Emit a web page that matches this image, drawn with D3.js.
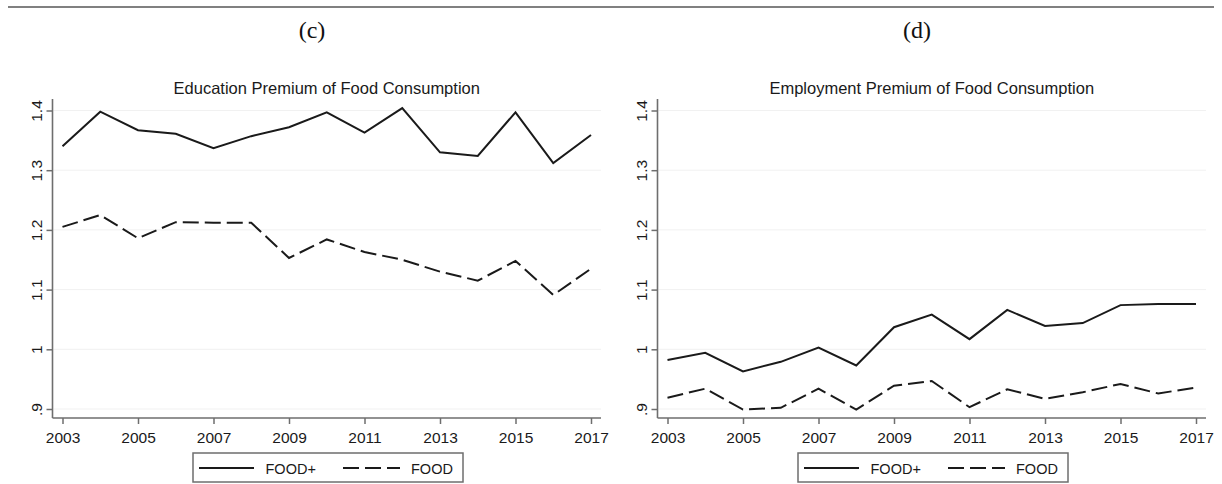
<!DOCTYPE html>
<html>
<head>
<meta charset="utf-8">
<script src="https://cdn.jsdelivr.net/npm/d3@7"></script>
<style>
  body { margin: 0; background: #fff; }
  svg { display: block; }
</style>
</head>
<body>
<svg id="fig" width="1222" height="484"></svg>
<script>
// Survey years on the horizontal axis
const years = [2003, 2004, 2005, 2006, 2007, 2008, 2009, 2010, 2011, 2012, 2013, 2014, 2015, 2016, 2017];
const xTickYears = [2003, 2005, 2007, 2009, 2011, 2013, 2015, 2017];

// Premium series (ratio of means)
const eduFoodPlus = [1.340, 1.398, 1.367, 1.361, 1.337, 1.357, 1.372, 1.397, 1.363, 1.404, 1.330, 1.324, 1.397, 1.312, 1.359];
const eduFood     = [1.205, 1.225, 1.186, 1.213, 1.212, 1.212, 1.153, 1.184, 1.163, 1.150, 1.130, 1.115, 1.148, 1.091, 1.135];
const empFoodPlus = [0.982, 0.994, 0.963, 0.979, 1.003, 0.973, 1.037, 1.058, 1.017, 1.066, 1.039, 1.044, 1.074, 1.076, 1.076];
const empFood     = [0.919, 0.934, 0.899, 0.902, 0.934, 0.899, 0.939, 0.947, 0.903, 0.933, 0.917, 0.928, 0.942, 0.926, 0.936];

const yTickValues = [0.9, 1.0, 1.1, 1.2, 1.3, 1.4];
const yTickLabels = [".9", "1", "1.1", "1.2", "1.3", "1.4"];

const panelLetters = ["(c)", "(d)"];
const panelTitles = ["Education Premium of Food Consumption", "Employment Premium of Food Consumption"];
const seriesNames = ["FOOD+", "FOOD"];

const panels = [
  { letter: panelLetters[0], title: panelTitles[0], series: [eduFoodPlus, eduFood] },
  { letter: panelLetters[1], title: panelTitles[1], series: [empFoodPlus, empFood] }
];

const svg = d3.select("#fig");
const sans = "'Liberation Sans', Arial, sans-serif";
const serif = "'Liberation Serif', 'Times New Roman', serif";
const axisGray = "#6e6e6e";
const ink = "#1a1a1a";
const dashPattern = "16,6";

// Rule across the top of the figure
svg.append("line")
  .attr("x1", 8).attr("x2", 1214)
  .attr("y1", 7).attr("y2", 7)
  .attr("stroke", "#808080").attr("stroke-width", 2);

const panelWidth = 605;
const axisX = 52.5, axisRight = 601;
const axisY = 418, axisTop = 99;

const x = d3.scaleLinear().domain([2003, 2017]).range([62.5, 591]);
const y = d3.scaleLinear().domain([0.9, 1.4]).range([409, 110.5]);

panels.forEach((p, i) => {
  const g = svg.append("g").attr("transform", `translate(${i * panelWidth},0)`);

  // Panel letter
  g.append("text")
    .attr("x", 312).attr("y", 38)
    .attr("text-anchor", "middle")
    .attr("font-family", serif).attr("font-size", 24)
    .attr("fill", "#111")
    .text(p.letter);

  // Chart title
  g.append("text")
    .attr("x", (axisX + axisRight) / 2).attr("y", 94)
    .attr("text-anchor", "middle")
    .attr("font-family", sans).attr("font-size", 16.5)
    .attr("fill", ink)
    .text(p.title);

  // Horizontal gridlines
  g.append("g").selectAll("line")
    .data(yTickValues)
    .join("line")
    .attr("x1", axisX + 1).attr("x2", axisRight)
    .attr("y1", d => y(d)).attr("y2", d => y(d))
    .attr("stroke", "#f1f1f1").attr("stroke-width", 1);

  // Y axis
  const yAxis = d3.axisLeft(y)
    .tickValues(yTickValues)
    .tickFormat((d, k) => yTickLabels[k])
    .tickSize(6)
    .tickSizeOuter(0);
  const ya = g.append("g").attr("transform", `translate(${axisX},0)`).call(yAxis);
  ya.select(".domain").remove();
  ya.selectAll(".tick line").attr("stroke", axisGray).attr("stroke-width", 1.5);
  ya.selectAll(".tick text")
    .attr("x", null).attr("dy", null)
    .attr("transform", "translate(-10.5,0) rotate(-90)")
    .attr("text-anchor", "middle")
    .attr("font-family", sans).attr("font-size", 15.5)
    .attr("fill", ink);

  // X axis
  const xAxis = d3.axisBottom(x)
    .tickValues(xTickYears)
    .tickFormat(d3.format("d"))
    .tickSize(6)
    .tickSizeOuter(0);
  const xa = g.append("g").attr("transform", `translate(0,${axisY})`).call(xAxis);
  xa.select(".domain").remove();
  xa.selectAll(".tick line").attr("stroke", axisGray).attr("stroke-width", 1.5);
  xa.selectAll(".tick text")
    .attr("y", 25).attr("dy", null)
    .attr("font-family", sans).attr("font-size", 15.5)
    .attr("fill", ink);

  // Axis lines
  g.append("line")
    .attr("x1", axisX).attr("x2", axisX)
    .attr("y1", axisTop).attr("y2", axisY)
    .attr("stroke", axisGray).attr("stroke-width", 1.6);
  g.append("line")
    .attr("x1", axisX).attr("x2", axisRight)
    .attr("y1", axisY).attr("y2", axisY)
    .attr("stroke", axisGray).attr("stroke-width", 1.6);

  // Series lines
  const line = d3.line()
    .x((d, k) => x(years[k]))
    .y(d => y(d));
  p.series.forEach((vals, s) => {
    g.append("path")
      .datum(vals)
      .attr("d", line)
      .attr("fill", "none")
      .attr("stroke", ink)
      .attr("stroke-width", 2)
      .attr("stroke-linejoin", "miter")
      .attr("stroke-dasharray", s === 1 ? dashPattern : null);
  });

  // Legend
  const lg = g.append("g");
  lg.append("rect")
    .attr("x", 193).attr("y", 453)
    .attr("width", 270).attr("height", 29)
    .attr("fill", "#fff")
    .attr("stroke", axisGray).attr("stroke-width", 1.5);
  const items = [
    { name: seriesNames[0], x0: 199, x1: 254, tx: 265.5, dash: null },
    { name: seriesNames[1], x0: 343, x1: 400, tx: 411, dash: dashPattern }
  ];
  items.forEach(it => {
    lg.append("line")
      .attr("x1", it.x0).attr("x2", it.x1)
      .attr("y1", 468).attr("y2", 468)
      .attr("stroke", ink).attr("stroke-width", 2)
      .attr("stroke-dasharray", it.dash);
    lg.append("text")
      .attr("x", it.tx).attr("y", 474)
      .attr("font-family", sans).attr("font-size", 14.5)
      .attr("fill", ink)
      .text(it.name);
  });
});
</script>
</body>
</html>
